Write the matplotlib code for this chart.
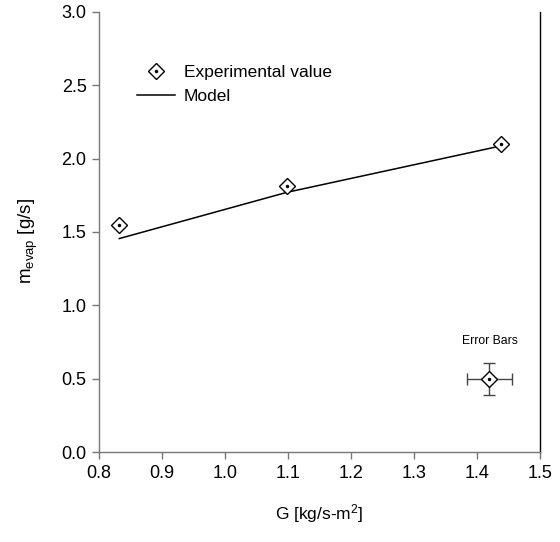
import matplotlib.pyplot as plt
from matplotlib.legend_handler import HandlerTuple

plt.rcParams['font.family'] = ['Liberation Sans', 'DejaVu Sans']
plt.rcParams['mathtext.fontset'] = 'custom'
plt.rcParams['mathtext.rm'] = 'Liberation Sans'
plt.rcParams['mathtext.it'] = 'Liberation Sans'

# experimental data
g_exp = [0.832, 1.098, 1.439]
m_exp = [1.55, 1.81, 2.10]

# model curve
g_model = [0.832, 1.098, 1.431]
m_model = [1.455, 1.77, 2.08]

# error bar sample
g_err = [1.42]
m_err = [0.50]
g_err_size = [0.035]
m_err_size = [0.11]

fig = plt.figure(figsize=(5.6, 5.42), dpi=100)
ax = fig.add_axes([0.177, 0.166, 0.787, 0.812])

line, = ax.plot(g_model, m_model, color='black', lw=1.1)
dia, = ax.plot(g_exp, m_exp, ls='none', marker='D', ms=8.5, mfc='white',
               mec='black', mew=1.0, zorder=3)
dot, = ax.plot(g_exp, m_exp, ls='none', marker='o', ms=1.5, color='black', zorder=4)

ax.errorbar(g_err, m_err, xerr=g_err_size, yerr=m_err_size, fmt='none',
            ecolor='#444444', elinewidth=1.0, capsize=4, capthick=1.0, zorder=2)
ax.plot(g_err, m_err, ls='none', marker='D', ms=8.5, mfc='white',
        mec='black', mew=1.0, zorder=3)
ax.plot(g_err, m_err, ls='none', marker='o', ms=1.5, color='black', zorder=4)
ax.text(1.42, 0.76, 'Error Bars', ha='center', va='center', fontsize=8.8)

ax.set_xlim(0.8, 1.5)
ax.set_ylim(0.0, 3.0)
ax.set_xticks([0.8, 0.9, 1.0, 1.1, 1.2, 1.3, 1.4, 1.5])
ax.set_yticks([0.0, 0.5, 1.0, 1.5, 2.0, 2.5, 3.0])
ax.set_xticklabels(['0.8', '0.9', '1.0', '1.1', '1.2', '1.3', '1.4', '1.5'])
ax.set_yticklabels(['0.0', '0.5', '1.0', '1.5', '2.0', '2.5', '3.0'])
ax.tick_params(direction='out', length=5, width=1, color='#777777',
               labelsize=13, pad=4)

ax.spines['top'].set_visible(False)
ax.spines['left'].set_color('#777777')
ax.spines['bottom'].set_color('#777777')
ax.spines['right'].set_color('black')
for s in ax.spines.values():
    s.set_linewidth(1.0)

ax.set_xlabel(r'G [kg/s-m$^2$]', fontsize=12.5, labelpad=15)
ax.set_ylabel(r'm$_{\rm evap}$ [g/s]', fontsize=13.5)
ax.yaxis.set_label_coords(-0.134, 0.48)

ax.legend([(dia, dot), line], ['Experimental value', 'Model'],
          handler_map={tuple: HandlerTuple(ndivide=1)},
          loc='upper left', bbox_to_anchor=(0.05, 0.915), frameon=False,
          fontsize=12.5, handlelength=2.2, handletextpad=0.5, labelspacing=0.5)

fig.savefig('out.png', dpi=100)
